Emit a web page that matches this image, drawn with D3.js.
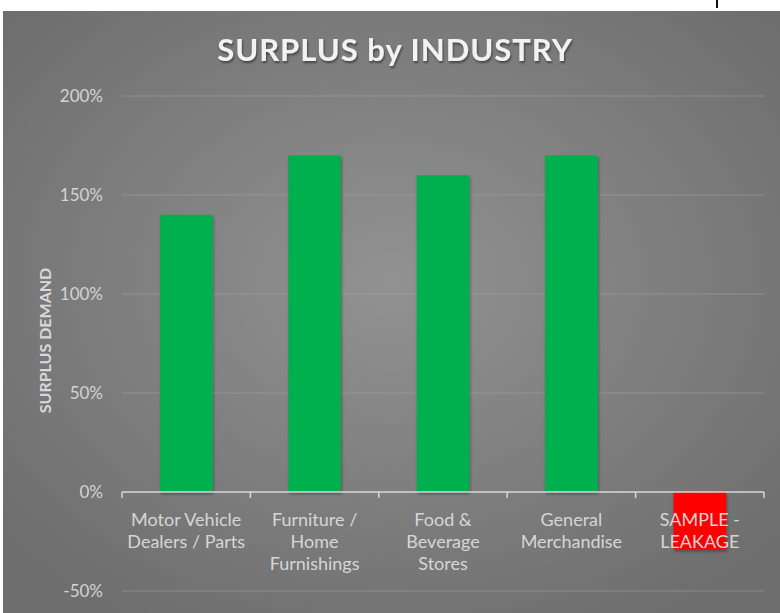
<!DOCTYPE html>
<html>
<head>
<meta charset="utf-8">
<script src="https://cdn.jsdelivr.net/npm/d3@7"></script>
<style>
  html, body { margin: 0; padding: 0; background: #ffffff; }
  svg { display: block; }
  text { font-family: Lato, "Open Sans", sans-serif; }
</style>
</head>
<body>
<script>
// Surplus demand by retail industry (percent)
const categories = [
  ["Motor Vehicle", "Dealers / Parts"],
  ["Furniture /", "Home", "Furnishings"],
  ["Food &", "Beverage", "Stores"],
  ["General", "Merchandise"],
  ["SAMPLE -", "LEAKAGE"]
];
const surplusValues = [140, 170, 160, 170, -29];
const yTickValues = [-50, 0, 50, 100, 150, 200];
const chartTitle = "SURPLUS by INDUSTRY";
const yAxisTitle = "SURPLUS DEMAND";

const W = 780, H = 613;
const panel = { x: 3, y: 11, w: 777, h: 602 };
const plot = { left: 122, right: 764, top: 96, bottom: 591 };

const svg = d3.select("body").append("svg")
  .attr("width", W).attr("height", H);

const defs = svg.append("defs");
const grad = defs.append("radialGradient")
  .attr("id", "bg").attr("cx", "50%").attr("cy", "45%").attr("r", "65%");
grad.append("stop").attr("offset", "0%").attr("stop-color", "#929292");
grad.append("stop").attr("offset", "100%").attr("stop-color", "#6e6e6e");

const shadow = defs.append("filter").attr("id", "shadow")
  .attr("x", "-20%").attr("y", "-20%").attr("width", "140%").attr("height", "140%");
shadow.append("feDropShadow").attr("dx", 1).attr("dy", 2).attr("stdDeviation", 1.5)
  .attr("flood-color", "#000").attr("flood-opacity", 0.35);

const titleShadow = defs.append("filter").attr("id", "tshadow")
  .attr("x", "-10%").attr("y", "-30%").attr("width", "120%").attr("height", "160%");
titleShadow.append("feDropShadow").attr("dx", 1).attr("dy", 2).attr("stdDeviation", 1.2)
  .attr("flood-color", "#000").attr("flood-opacity", 0.45);

// small mark above the panel
svg.append("rect").attr("x", 716).attr("y", 0).attr("width", 2).attr("height", 8).attr("fill", "#111");

svg.append("rect")
  .attr("x", panel.x).attr("y", panel.y)
  .attr("width", panel.w).attr("height", panel.h)
  .attr("fill", "url(#bg)");

const x = d3.scaleBand()
  .domain(d3.range(categories.length))
  .range([plot.left, plot.right])
  .paddingInner(0.59).paddingOuter(0.295);

const xBounds = d3.scaleLinear()
  .domain([0, categories.length])
  .range([plot.left, plot.right]);

const y = d3.scaleLinear()
  .domain([-50, 200])
  .range([plot.bottom, plot.top]);

// gridlines
svg.append("g")
  .selectAll("line")
  .data(yTickValues.filter(v => v !== 0))
  .join("line")
  .attr("x1", plot.left).attr("x2", plot.right)
  .attr("y1", d => y(d)).attr("y2", d => y(d))
  .attr("stroke", "#a6a6a6").attr("stroke-width", 1).attr("opacity", 0.5);

// y axis tick labels
const yAxis = d3.axisLeft(y)
  .tickValues(yTickValues)
  .tickFormat(d => d + "%")
  .tickSize(0).tickPadding(0);
const yG = svg.append("g")
  .attr("transform", `translate(${plot.left - 19},0)`)
  .call(yAxis);
yG.select(".domain").remove();
yG.selectAll("text")
  .attr("fill", "#d4d4d4")
  .style("font-size", "17px")
  .style("font-family", "Lato, 'Open Sans', sans-serif");

// bars
svg.append("g")
  .selectAll("rect")
  .data(surplusValues)
  .join("rect")
  .attr("x", (d, i) => x(i))
  .attr("width", x.bandwidth())
  .attr("y", d => y(Math.max(0, d)))
  .attr("height", d => Math.abs(y(d) - y(0)))
  .attr("fill", d => d >= 0 ? "#00b050" : "#ff0000")
  .attr("filter", "url(#shadow)");

// x axis line with boundary ticks
const axisG = svg.append("g").attr("stroke", "#d9d9d9").attr("stroke-width", 1.5).attr("fill", "none");
axisG.append("line")
  .attr("x1", plot.left).attr("x2", plot.right)
  .attr("y1", y(0)).attr("y2", y(0));
axisG.selectAll("line.tick")
  .data(d3.range(categories.length + 1))
  .join("line").attr("class", "tick")
  .attr("x1", d => xBounds(d)).attr("x2", d => xBounds(d))
  .attr("y1", y(0)).attr("y2", y(0) + 6);

// category labels
const labelG = svg.append("g");
categories.forEach((lines, i) => {
  const t = labelG.append("text")
    .attr("x", x(i) + x.bandwidth() / 2)
    .attr("y", y(0) + 34)
    .attr("text-anchor", "middle")
    .attr("fill", "#d6d6d6")
    .style("font-size", "18px");
  lines.forEach((ln, k) => {
    t.append("tspan")
      .attr("x", x(i) + x.bandwidth() / 2)
      .attr("dy", k === 0 ? 0 : 22)
      .text(ln);
  });
});

// title
svg.append("text")
  .attr("x", 395).attr("y", 61)
  .attr("text-anchor", "middle")
  .attr("fill", "#f2f2f2")
  .attr("filter", "url(#tshadow)")
  .style("font-size", "31px")
  .style("font-weight", "bold")
  .style("letter-spacing", "1px")
  .text(chartTitle);

// y axis title
svg.append("text")
  .attr("transform", `translate(51,${(y(100) + y(50)) / 2 - 3}) rotate(-90)`)
  .attr("text-anchor", "middle")
  .attr("fill", "#d9d9d9")
  .style("font-size", "16px")
  .style("font-weight", "bold")
  .text(yAxisTitle);
</script>
</body>
</html>
